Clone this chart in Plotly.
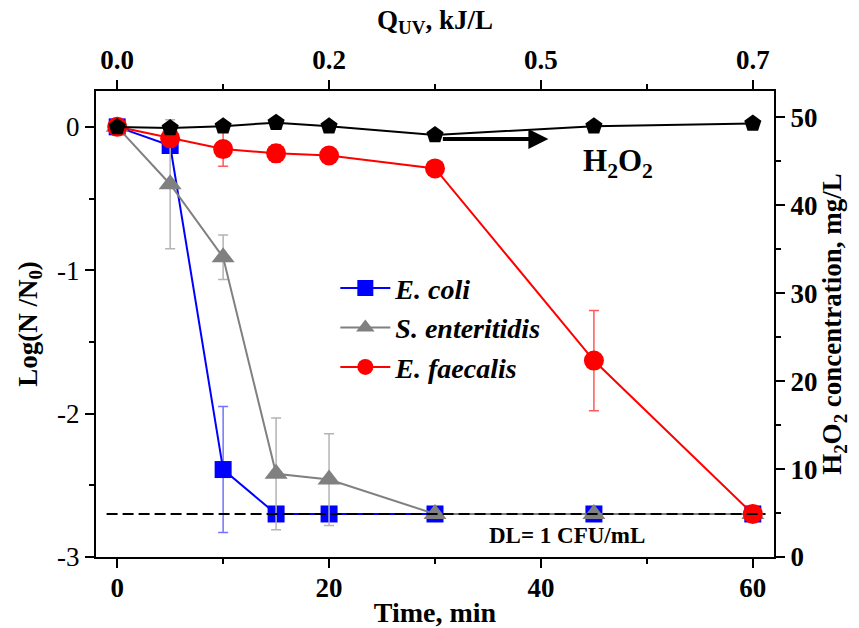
import plotly.graph_objects as go

time = [0, 5, 10, 15, 20, 30, 45, 60]

ecoli = [0, -0.13, -2.39, -2.70, -2.70, -2.70, -2.70, -2.70]
ecoli_err = [0, 0, 0.44, 0, 0, 0, 0, 0]

sent = [0, -0.40, -0.91, -2.42, -2.46, -2.70, -2.70, -2.70]
sent_err = [0, 0.45, 0.155, 0.39, 0.32, 0, 0, 0]

efae = [0, -0.08, -0.155, -0.185, -0.20, -0.29, -1.63, -2.70]
efae_err = [0, 0, 0.12, 0.06, 0, 0, 0.35, 0]

h2o2 = [48.9, 48.8, 49.0, 49.4, 49.0, 48.0, 49.0, 49.3]

bottom_ticks = [0, 20, 40, 60]
top_ticktext = ["0.0", "0.2", "0.5", "0.7"]
left_ticks = [-3, -2, -1, 0]
right_ticks = [0, 10, 20, 30, 40, 50]
DL = -2.7

FONT = "Liberation Serif"

fig = go.Figure()

fig.add_trace(go.Scatter(
    x=time, y=ecoli, mode="lines+markers", name="<b><i>E. coli</i></b>",
    line=dict(color="#0000ff", width=2),
    marker=dict(symbol="square", size=17, color="#0000ff"),
    error_y=dict(type="data", array=ecoli_err, color="rgba(80,80,255,0.8)", thickness=1.5, width=5),
))
fig.add_trace(go.Scatter(
    x=time, y=sent, mode="lines+markers", name="<b><i>S. enteritidis</i></b>",
    line=dict(color="#808080", width=2),
    marker=dict(symbol="triangle-up", size=20, color="#808080"),
    error_y=dict(type="data", array=sent_err, color="#b4b4b4", thickness=1.5, width=5),
))
fig.add_trace(go.Scatter(
    x=time, y=efae, mode="lines+markers", name="<b><i>E. faecalis</i></b>",
    line=dict(color="#ff0000", width=2),
    marker=dict(symbol="circle", size=20, color="#ff0000"),
    error_y=dict(type="data", array=efae_err, color="rgba(255,60,60,0.85)", thickness=1.5, width=5),
))
fig.add_trace(go.Scatter(
    x=time, y=h2o2, mode="lines+markers", name="H2O2", showlegend=False,
    line=dict(color="#000000", width=2),
    marker=dict(symbol="pentagon", size=18, color="#000000"),
    yaxis="y2",
))
# invisible trace to anchor the top axis
fig.add_trace(go.Scatter(x=[0, 60], y=[0, 0], xaxis="x2", mode="markers",
                         marker=dict(opacity=0), showlegend=False, hoverinfo="skip"))

fig.add_shape(type="line", xref="x", yref="y", x0=-1, x1=61.2, y0=DL, y1=DL,
              line=dict(color="black", width=2, dash="11px,5px"))

axis_common = dict(showline=True, linewidth=2, linecolor="black", ticks="outside",
                   ticklen=9, tickwidth=2, tickcolor="black", showgrid=False,
                   zeroline=False, automargin=False)
minor_common = dict(ticklen=5, tickwidth=2, ticks="outside", tickcolor="black")

fig.update_layout(
    width=859, height=628,
    margin=dict(l=96, r=85, t=91, b=71),
    paper_bgcolor="white", plot_bgcolor="white",
    font=dict(family=FONT, color="black", size=27),
    xaxis=dict(range=[-2, 62], tickvals=bottom_ticks,
               tickfont=dict(size=27, weight="bold"), ticklabelstandoff=-3,
               minor=dict(dtick=10, **minor_common),
               title=dict(text="<b>Time, min</b>", font=dict(size=28), standoff=4),
               **axis_common),
    xaxis2=dict(range=[-2, 62], overlaying="x", side="top", tickvals=bottom_ticks,
                ticktext=top_ticktext, tickfont=dict(size=27, weight="bold"),
                minor=dict(dtick=10, **minor_common),
                title=dict(text="<b>Q<sub>UV</sub>, kJ/L</b>", font=dict(size=27), standoff=8),
                **axis_common),
    yaxis=dict(range=[-3, 0.25], tickvals=left_ticks, ticktext=["-3", "-2", "-1", "0"],
               tickfont=dict(size=27),
               minor=dict(dtick=0.5, **minor_common),
               title=dict(text="<b>Log(N /N<sub>0</sub>)</b>", font=dict(size=27), standoff=12),
               **axis_common),
    yaxis2=dict(range=[0, 53], overlaying="y", side="right", tickvals=right_ticks,
                tickfont=dict(size=27, weight="bold"),
                minor=dict(dtick=5, **minor_common),
                title=dict(text="<b>H<sub>2</sub>O<sub>2</sub> concentration, mg/L</b>",
                           font=dict(size=27), standoff=6),
                **axis_common),
    legend=dict(x=0.353, y=0.63, xanchor="left", yanchor="top",
                bgcolor="rgba(0,0,0,0)", font=dict(size=28, family=FONT),
                itemwidth=50, tracegroupgap=0),
    showlegend=True,
)

fig.add_annotation(x=40.7, y=-0.085, ax=30.6, ay=-0.085, xref="x", yref="y",
                   axref="x", ayref="y", showarrow=True, arrowhead=2, arrowsize=1,
                   arrowwidth=4, arrowcolor="black", text="")
fig.add_annotation(x=47.3, y=-0.25, xref="x", yref="y", showarrow=False,
                   text="<b>H<sub>2</sub>O<sub>2</sub></b>", font=dict(size=31, family=FONT))
fig.add_annotation(x=42.5, y=-2.85, xref="x", yref="y", showarrow=False,
                   text="<b>DL= 1 CFU/mL</b>", font=dict(size=23, family=FONT))

fig.write_html("out.html", config={"displayModeBar": False},
               post_script="document.body.style.margin='0px';document.body.style.overflow='hidden';")
